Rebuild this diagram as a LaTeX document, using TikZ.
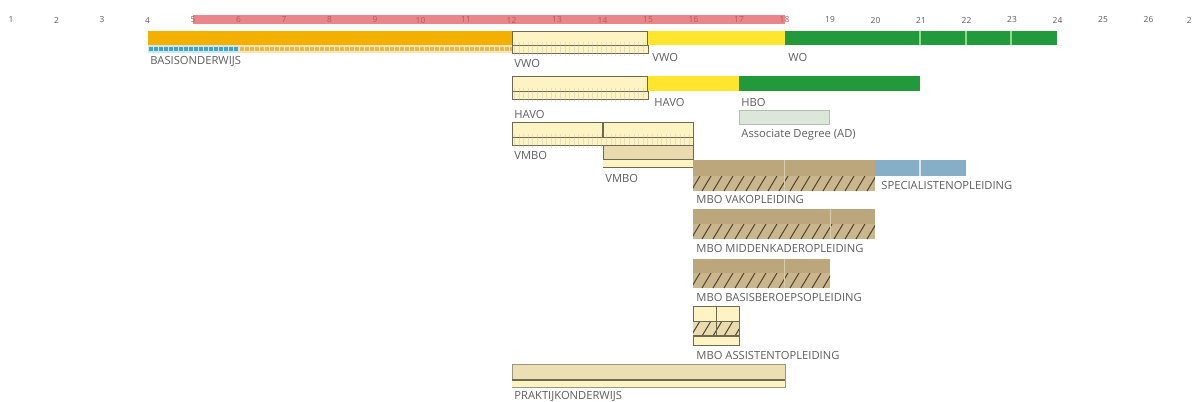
\documentclass[tikz,border=0pt]{standalone}
\usepackage{fontspec}
\setmainfont{Open Sans}
\definecolor{redbar}{HTML}{E8868A}
\definecolor{rednum}{HTML}{B85A5E}
\definecolor{orng}{HTML}{F4B000}
\definecolor{lyel}{HTML}{FEF3C2}
\definecolor{yel}{HTML}{FFE52E}
\definecolor{grn}{HTML}{22993A}
\definecolor{lgrn}{HTML}{8FD98F}
\definecolor{tan}{HTML}{E9DBAE}
\definecolor{brn}{HTML}{BCA67B}
\definecolor{brnl}{HTML}{C9B68C}
\definecolor{hatch}{HTML}{4E4230}
\definecolor{blu}{HTML}{86AFC7}
\definecolor{adfill}{HTML}{DCE7D9}
\definecolor{adline}{HTML}{AFC0AC}
\definecolor{olive}{HTML}{6E6A50}
\definecolor{txt}{HTML}{5E5E5E}
\definecolor{dotblue}{HTML}{3FA6C6}
\definecolor{dotbg}{HTML}{CFE6EE}
\definecolor{dotor}{HTML}{E7B84A}
\definecolor{dotorbg}{HTML}{F8E7B5}
\tikzset{
  x=0.5pt, y=-0.5pt,
  lbl/.style={anchor=west, inner sep=0pt, text=txt, font=\fontsize{5.6}{6}\selectfont},
  num/.style={inner sep=0pt, text=txt, font=\fontsize{4.2}{4.2}\selectfont},
  rnum/.style={inner sep=0pt, text=rednum, font=\fontsize{4.2}{4.2}\selectfont},
  lbox/.style={fill=lyel, draw=olive, line width=0.4pt},
  tbox/.style={fill=tan, draw=olive, line width=0.4pt},
  hl/.style={draw=hatch, line width=0.5pt},
  ticks/.style={draw=olive!45!white, line width=0.3pt, dash pattern=on 0.3pt off 2pt},
}
\begin{document}
\begin{tikzpicture}
\useasboundingbox (0,0) rectangle (1192,401);
% red bar
\fill[redbar] (193,15) rectangle (785,24);
% axis numbers
\foreach \n in {1,...,4,19,20,...,26} {
  \node[num] (n\n) at ({11+(\n-1)*45.5},20) {\n};
}
\node[num, anchor=east] (n27) at (1192,20) {2};
\foreach \n in {5,...,18} {
  \node[rnum] (n\n) at ({11+(\n-1)*45.5},20) {\n};
}
% ---------- row 1
\fill[orng] (148,31) rectangle (512,45);
\fill[dotbg] (148,45) rectangle (239,53);
\draw[dotblue, line width=2.2pt, dash pattern=on 1.8pt off 0.7pt] (149,49) -- (239,49);
\fill[dotorbg] (239,45) rectangle (512,53);
\draw[dotor, line width=2.2pt, dash pattern=on 1.8pt off 0.7pt] (240,49) -- (512,49);
\draw[lbox] (512,31) rectangle (648,53);
\draw[olive, line width=0.4pt] (512,45) -- (648,45);
\draw[ticks, line width=7pt, draw opacity=0.35] (514,49) -- (646,49);
\draw[olive, line width=0.8pt] (648,31) -- (648,45);
\fill[yel] (648,31) rectangle (785,45);
\fill[grn] (785,31) rectangle (1057,45);
\foreach \xx in {920,966,1011} \draw[lgrn, line width=0.8pt] (\xx,31) -- (\xx,45);
\node[lbl] (basis) at (150,61) {BASISONDERWIJS};
\node[lbl] (vwo1) at (514,63) {VWO};
\node[lbl] (vwo2) at (652,57) {VWO};
\node[lbl] (wo) at (788,57) {WO};
% ---------- row 2
\draw[lbox] (512,76) rectangle (648,99);
\draw[olive, line width=0.4pt] (512,91) -- (648,91);
\draw[ticks, line width=7pt, draw opacity=0.35] (514,95) -- (646,95);
\draw[olive, line width=0.8pt] (648,76) -- (648,91);
\fill[yel] (648,76) rectangle (739,91);
\fill[grn] (739,76) rectangle (920,91);
\draw[fill=adfill, draw=adline, line width=0.5pt] (739,110) rectangle (829,124);
\node[lbl] (havo1) at (514,114) {HAVO};
\node[lbl] (havo2) at (654,102) {HAVO};
\node[lbl] (hbo) at (741,102) {HBO};
\node[lbl] (ad) at (741,135) {Associate Degree (AD)};
% ---------- row 3 VMBO
\draw[lbox] (512,122) rectangle (693,145);
\draw[olive, line width=0.4pt] (512,137) -- (693,137);
\draw[ticks, line width=7pt, draw opacity=0.35] (514,141) -- (691,141);
\draw[olive, line width=0.8pt] (603,122) -- (603,137);
\draw[tbox] (603,145) rectangle (693,167);
\fill[lyel] (603.4,159) rectangle (692.6,166.6);
\draw[olive, line width=0.4pt] (603,159) -- (693,159);
\node[lbl] (vmbo1) at (514,155) {VMBO};
\node[lbl] (vmbo2) at (605,178) {VMBO};
% ---------- MBO vakopleiding
\fill[brn] (693,160) rectangle (875,176);
\fill[brnl] (693,176) rectangle (875,191);
\begin{scope}
\clip (693,176) rectangle (875,191);
\foreach \xx in {680,691,...,880} \draw[hl] (\xx,191) -- (\xx+9,176);
\end{scope}
\draw[brnl!70!white, line width=0.5pt] (784,160) -- (784,191);
\fill[blu] (875,160) rectangle (966,176);
\draw[white!70!blu, line width=0.6pt] (920,160) -- (920,176);
\node[lbl] (spec) at (881,185) {SPECIALISTENOPLEIDING};
\node[lbl] (vak) at (696,199) {MBO VAKOPLEIDING};
% ---------- MBO middenkader
\fill[brn] (693,209) rectangle (875,224);
\fill[brnl] (693,224) rectangle (875,239);
\begin{scope}
\clip (693,224) rectangle (875,239);
\foreach \xx in {680,691,...,880} \draw[hl] (\xx,239) -- (\xx+9,224);
\end{scope}
\draw[brnl!70!white, line width=0.5pt] (830,209) -- (830,239);
\node[lbl] (midden) at (696,248) {MBO MIDDENKADEROPLEIDING};
% ---------- MBO basisberoeps
\fill[brn] (693,259) rectangle (830,273);
\fill[brnl] (693,273) rectangle (830,288);
\begin{scope}
\clip (693,273) rectangle (830,288);
\foreach \xx in {680,691,...,835} \draw[hl] (\xx,288) -- (\xx+9,273);
\end{scope}
\draw[brnl!70!white, line width=0.5pt] (784,259) -- (784,288);
\node[lbl] (basisb) at (696,297) {MBO BASISBEROEPSOPLEIDING};
% ---------- MBO assistent
\draw[lbox] (693,306) rectangle (739,345);
\fill[tan] (693.4,321) rectangle (738.6,336);
\begin{scope}
\clip (693,321) rectangle (739,336);
\foreach \xx in {680,691,...,745} \draw[hl] (\xx,336) -- (\xx+9,321);
\end{scope}
\draw[olive, line width=0.4pt] (693,321) -- (739,321);
\draw[olive, line width=0.6pt] (693,336) -- (739,336);
\draw[olive, line width=0.4pt] (716,306) -- (716,336);
\node[lbl] (assist) at (696,355) {MBO ASSISTENTOPLEIDING};
% ---------- praktijkonderwijs
\draw[fill=tan!85!lyel, draw=olive!70!white, line width=0.4pt] (512,364) rectangle (785,387);
\fill[lyel] (512.4,380) rectangle (784.6,386.6);
\draw[olive, line width=1pt] (512,379.5) -- (785,379.5);
\node[lbl] (prak) at (514,396) {PRAKTIJKONDERWIJS};
\end{tikzpicture}
\end{document}
